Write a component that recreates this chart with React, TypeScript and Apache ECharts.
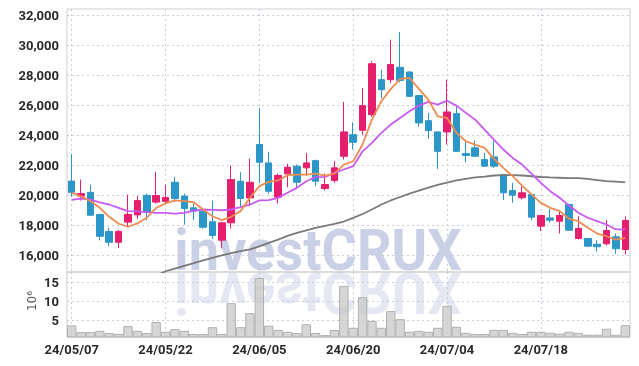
import React, { useEffect, useRef } from 'react';
import * as echarts from 'echarts';

const dates = [
  '24/05/07','24/05/08','24/05/09','24/05/10','24/05/13','24/05/14','24/05/16','24/05/17','24/05/20','24/05/21',
  '24/05/22','24/05/23','24/05/24','24/05/27','24/05/28','24/05/29','24/05/30','24/05/31','24/06/03','24/06/04',
  '24/06/05','24/06/07','24/06/10','24/06/11','24/06/12','24/06/13','24/06/14','24/06/17','24/06/18','24/06/19',
  '24/06/20','24/06/21','24/06/24','24/06/25','24/06/26','24/06/27','24/06/28','24/07/01','24/07/02','24/07/03',
  '24/07/04','24/07/05','24/07/08','24/07/09','24/07/10','24/07/11','24/07/12','24/07/15','24/07/16','24/07/17',
  '24/07/18','24/07/19','24/07/22','24/07/23','24/07/24','24/07/25','24/07/26','24/07/29','24/07/30','24/07/31',
];

const opens = [
  20950,19950,20200,18730,17600,16880,18220,18700,20000,19550,
  19600,20870,19950,19170,18950,18240,17020,18170,20940,19830,
  23380,22160,19880,21430,21940,21830,22310,20450,20985,22600,
  24040,24330,25370,27700,27700,28520,28210,26640,24970,24220,
  24220,25440,22780,23160,22380,22560,21380,20320,19840,20050,
  17950,18500,18280,19390,17130,17130,16750,16780,17240,16400,
];
const closes = [
  20200,20120,18680,17280,16880,17600,18730,19650,18880,19990,
  19850,19790,19120,18950,17880,17330,18170,21050,19790,20870,
  22200,20270,21320,21870,20870,22160,20940,20720,21830,24220,
  23530,25970,28760,27030,28700,27650,26590,24820,24310,22930,
  25550,22930,22650,22600,21940,21940,20170,20010,20170,18550,
  18660,18350,18660,17680,17800,16620,16580,17660,16450,18330,
];
const lows = [
  19900,19650,18650,17000,16620,16500,17950,18450,18350,19450,
  19450,19550,18050,18350,17780,17100,16470,17800,19240,19280,
  20830,20100,19460,20540,20500,21320,20600,20320,20830,22380,
  23050,24040,25220,26440,27480,27520,26550,24560,23760,21760,
  23380,22900,22200,22550,21900,21830,19680,19500,19720,18350,
  17620,18170,17460,17650,17060,16550,16250,16660,16110,16070,
];
const highs = [
  22750,21050,20700,18750,17850,17700,20050,19950,20120,21550,
  20700,21230,20120,19450,19170,19650,18200,21980,21540,22450,
  25800,22900,21450,22100,22050,22830,22380,21450,22270,26220,
  24860,27150,28920,28360,30360,30870,28250,26650,25490,24250,
  27700,25920,23660,23650,22830,23660,21400,20830,20600,20080,
  18700,19100,18950,19450,18610,17150,17020,18350,17460,18600,
];

const maShort = [
  20170,19940,19610,19170,18570,18110,17910,18130,18510,19170,
  19460,19660,19610,19540,19060,18610,18350,18570,18950,19840,
  20610,20900,20990,21340,21380,21380,21450,21320,21450,22050,
  22270,23380,25040,26260,27070,27750,27810,27080,26370,25260,
  25150,24160,23600,23380,23160,22430,21830,21280,20650,20060,
  19500,19170,18950,18440,18280,17840,17460,17280,17060,17170,
];
const maMid = [
  19700,19790,19720,19540,19390,19170,18950,18930,18880,18840,
  18840,18790,18840,18990,19060,19040,19010,19060,19210,19390,
  19660,19680,19830,20170,20500,20940,21210,21230,21500,21720,
  21940,22930,23490,24160,24710,25150,25590,25970,26220,26040,
  26300,25970,25490,25040,24380,23710,23050,22490,22050,21450,
  20830,20280,19840,19320,18840,18510,18280,18060,17730,17730,
];
const maLong = [
  null,null,null,null,null,null,null,null,null,14650,
  14950,15130,15310,15490,15670,15840,16000,16150,16290,16400,
  16600,16840,17060,17300,17500,17670,17830,17970,18100,18260,
  18500,18760,19060,19390,19660,19890,20120,20320,20520,20690,
  20850,20990,21090,21190,21250,21320,21340,21340,21320,21270,
  21220,21190,21170,21150,21140,21090,21020,20950,20910,20870,
];

// volume in millions
const volumes = [
  3.6,1.8,1.8,2.15,1.55,1.3,3.4,2.15,1.55,4.5,
  1.9,2.6,2.15,1.3,1.3,3.1,1.3,9.5,3.1,6.85,
  16.2,3.5,2.4,1.9,1.55,3.9,1.55,1.0,2.35,14.1,
  2.95,11.1,4.8,2.95,7.4,5.25,1.9,2.15,1.9,2.95,
  8.8,3.2,1.6,1.3,1.3,2.4,2.4,1.6,1.3,1.9,
  1.9,1.6,1.4,1.9,1.6,1.1,1.1,2.7,1.1,3.65,
];

const priceTicks = [16000,18000,20000,22000,24000,26000,28000,30000,32000];
const volumeTicks = [5,10,15];

const UP = '#e61e6e';
const DOWN = '#2d96c8';
const FONT = 'Roboto';

export default function App() {
  const ref = useRef<HTMLDivElement>(null);
  useEffect(() => {
    const chart = echarts.init(ref.current!, null, { renderer: 'svg' });
    const candleData = opens.map((o, i) => [o, closes[i], lows[i], highs[i]]);
    const splitStyle = { color: '#c9cdd9', type: [2, 3] as any, width: 1 };
    const labelStyle = { fontFamily: FONT, fontSize: 13, fontWeight: 'bold' as any, color: '#2a2a2a' };
    const wmStyle = {
      text: 'investCRUX', fontFamily: 'Roboto', fontWeight: 'bold', fontSize: 57,
      textAlign: 'center', textVerticalAlign: 'middle',
    };
    chart.setOption({
      animation: false,
      grid: [
        { left: 67, right: 9, top: 9, height: 263, show: true, borderColor: '#cfcfcf', borderWidth: 1 },
        { left: 67, right: 9, top: 272, height: 65, show: true, borderColor: '#cfcfcf', borderWidth: 1 },
      ],
      xAxis: [
        {
          type: 'category', gridIndex: 0, data: dates, boundaryGap: true,
          axisLine: { show: false }, axisTick: { show: false }, axisLabel: { show: false },
          splitLine: { show: true, interval: 9, alignWithLabel: true, lineStyle: splitStyle },
        },
        {
          type: 'category', gridIndex: 1, data: dates, boundaryGap: true,
          axisLine: { show: false }, axisTick: { show: false },
          axisLabel: { ...labelStyle, interval: 9, margin: 6 },
          splitLine: { show: true, interval: 9, alignWithLabel: true, lineStyle: splitStyle },
        },
      ],
      yAxis: [
        {
          type: 'value', gridIndex: 0, min: 14900, max: 32400, scale: true,
          axisLine: { show: false },
          axisTick: { show: false, customValues: priceTicks },
          axisLabel: {
            ...labelStyle, margin: 8, customValues: priceTicks,
            formatter: (v: number) => v.toLocaleString('en-US'),
          },
          splitLine: { show: true, lineStyle: splitStyle },
        },
        {
          type: 'value', gridIndex: 1, min: 0.5, max: 17.8,
          axisLine: { show: false },
          axisTick: { show: false, customValues: volumeTicks },
          axisLabel: { ...labelStyle, margin: 8, customValues: volumeTicks },
          splitLine: { show: true, lineStyle: splitStyle },
        },
      ],
      graphic: [
        {
          type: 'text', x: 318, y: 251, scaleX: 0.95, z: 0,
          style: { ...wmStyle, fill: 'rgba(150,164,205,0.5)' },
        },
        {
          type: 'text', x: 318, y: 292, scaleX: 0.95, scaleY: -1, z: 0,
          style: { ...wmStyle, fill: 'rgba(150,164,205,0.25)' },
        },
        {
          type: 'text', x: 32, y: 301, rotation: Math.PI / 2, z: 5,
          style: {
            text: '10⁶', fontFamily: 'DejaVu Sans', fontSize: 12, fill: '#555',
            textAlign: 'center', textVerticalAlign: 'middle',
          },
        },
      ],
      series: [
        {
          type: 'candlestick', xAxisIndex: 0, yAxisIndex: 0, data: candleData, barWidth: 7,
          itemStyle: { color: UP, color0: DOWN, borderColor: UP, borderColor0: DOWN, borderWidth: 1 },
          z: 3,
        },
        {
          type: 'line', xAxisIndex: 0, yAxisIndex: 0, data: maLong, symbol: 'none',
          lineStyle: { color: '#7a7a7a', width: 1.8 }, z: 4,
        },
        {
          type: 'line', xAxisIndex: 0, yAxisIndex: 0, data: maMid, symbol: 'none',
          lineStyle: { color: '#c85af0', width: 1.8 }, z: 4,
        },
        {
          type: 'line', xAxisIndex: 0, yAxisIndex: 0, data: maShort, symbol: 'none',
          lineStyle: { color: '#f08c50', width: 1.8 }, z: 4,
        },
        {
          type: 'bar', xAxisIndex: 1, yAxisIndex: 1, data: volumes, barCategoryGap: '0%',
          itemStyle: { color: 'rgba(200,200,200,0.75)', borderColor: '#b0b0b0', borderWidth: 1 },
          z: 3,
        },
      ],
    });
    return () => chart.dispose();
  }, []);
  return <div ref={ref} style={{ position: 'fixed', left: 0, top: 0, width: 639, height: 366 }} />;
}
